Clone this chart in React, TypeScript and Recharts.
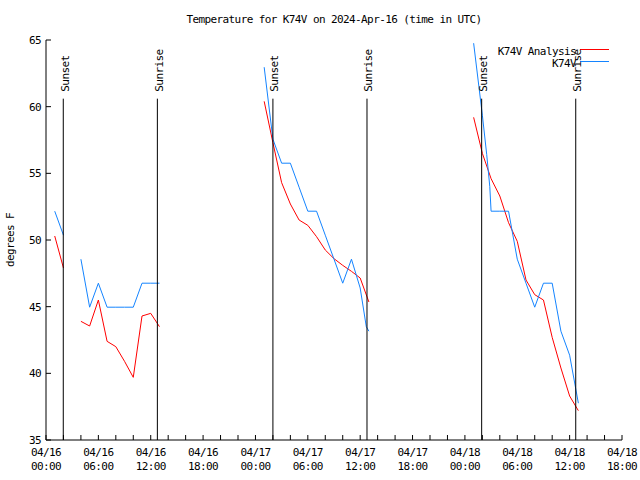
import { LineChart, Line, XAxis, YAxis, ReferenceLine } from "recharts";

const FONT = '"DejaVu Sans Mono", monospace';
const RED = "#ff0000";
const BLUE = "#1484ff";

// hours since 04/16 00:00 UTC, null = gap in the record
const ANALYSIS_HOURS = [
  1, 2, 3, 4, 5, 6, 7, 8, 9, 10, 11, 12, 13, 19,
  25, 26, 27, 28, 29, 30, 31, 32, 33, 34, 35, 36, 37, 43,
  49, 50, 51, 52, 53, 54, 55, 56, 57, 58, 59, 60, 61,
];
const ANALYSIS_TEMPS = [
  50.3, 47.9, null, 43.9, 43.55, 45.5, 42.4, 42.0, 40.9, 39.7, 44.3, 44.5, 43.5, null,
  60.4, 57.3, 54.3, 52.7, 51.5, 51.1, 50.25, 49.25, 48.6, 48.1, 47.65, 47.15, 45.35, null,
  59.2, 56.5, 54.6, 53.3, 51.3, 49.9, 47.0, 45.9, 45.5, 42.7, 40.4, 38.3, 37.2,
];

const OBS_HOURS = [
  1, 2, 3, 4, 5, 6, 7, 8, 9, 10, 11, 12, 13, 19,
  25, 26, 27, 28, 29, 30, 31, 32, 33, 34, 35, 36, 36.7, 37, 43,
  49, 50, 50.5, 50.85, 51, 52, 53, 54, 55, 56, 57, 58, 59, 60, 61,
];
const OBS_TEMPS = [
  52.16, 50.36, null, 48.56, 44.96, 46.76, 44.96, 44.96, 44.96, 44.96, 46.76, 46.76, 46.76, null,
  62.96, 57.56, 55.76, 55.76, 53.96, 52.16, 52.16, 50.36, 48.56, 46.76, 48.56, 46.4, 43.5, 43.16, null,
  64.76, 59.36, 56.4, 54.0, 52.16, 52.16, 52.16, 48.56, 46.76, 44.96, 46.76, 46.76, 43.16, 41.36, 37.76,
];

const SERIES_NAMES = ["K74V Analysis", "K74V"];
const SERIES_COLORS = [RED, BLUE];

const SUNSET_HOURS = [1.98, 26.0, 49.92];
const SUNRISE_HOURS = [12.76, 36.78, 60.7];
const SUN_LINE_TOP = 60.6;

const X_TICK_HOURS = [
  0, 2, 4, 6, 8, 10, 12, 14, 16, 18, 20, 22, 24, 26, 28, 30, 32, 34,
  36, 38, 40, 42, 44, 46, 48, 50, 52, 54, 56, 58, 60, 62, 64, 66,
];
const X_LABEL_HOURS = [0, 6, 12, 18, 24, 30, 36, 42, 48, 54, 60, 66];
const X_LABEL_DATES = [
  "04/16", "04/16", "04/16", "04/16", "04/17", "04/17",
  "04/17", "04/17", "04/18", "04/18", "04/18", "04/18",
];
const X_LABEL_TIMES = [
  "00:00", "06:00", "12:00", "18:00", "00:00", "06:00",
  "12:00", "18:00", "00:00", "06:00", "12:00", "18:00",
];
const Y_TICKS = [35, 40, 45, 50, 55, 60, 65];

const analysisData = ANALYSIS_HOURS.map((t, i) => ({ t, temp: ANALYSIS_TEMPS[i] }));
const obsData = OBS_HOURS.map((t, i) => ({ t, temp: OBS_TEMPS[i] }));

const textStyle = { fontFamily: FONT, fontSize: 11, letterSpacing: -0.6, fill: "#000" };

function TimeTick(props: any) {
  const { x, y, payload } = props;
  const i = X_LABEL_HOURS.indexOf(payload.value);
  if (i < 0) return <g />;
  return (
    <text x={x} y={y} textAnchor="middle" style={textStyle}>
      <tspan x={x} dy={11}>{X_LABEL_DATES[i]}</tspan>
      <tspan x={x} dy={14}>{X_LABEL_TIMES[i]}</tspan>
    </text>
  );
}

const sunShape = (label: string) => (props: any) => {
  const { x1, y1, x2, y2 } = props;
  const top = Math.min(y1, y2);
  return (
    <g>
      <line x1={x1} y1={y1} x2={x2} y2={y2} stroke="#000" strokeWidth={1} />
      <text
        transform={`translate(${x1 + 5.5},${top - 7}) rotate(-90)`}
        textAnchor="start"
        style={textStyle}
      >
        {label}
      </text>
    </g>
  );
};

// key box in the top right corner, drawn inside the chart svg
function KeyBox() {
  return (
    <g>
      {SERIES_NAMES.map((name, i) => (
        <g key={name}>
          <text x={576} y={54.5 + i * 12} textAnchor="end" style={textStyle}>
            {name}
          </text>
          <line
            x1={580}
            x2={609}
            y1={49.5 + i * 12}
            y2={49.5 + i * 12}
            stroke={SERIES_COLORS[i]}
            strokeWidth={1}
          />
        </g>
      ))}
    </g>
  );
}

export default function App() {
  return (
    <div style={{ position: "absolute", left: 0, top: 0, width: 640, height: 480, background: "#fff" }}>
      <LineChart
        width={640}
        height={480}
        margin={{ top: 40, right: 18, bottom: 0, left: 0 }}
        style={{ fontFamily: FONT }}
      >
        <text x={334} y={23} textAnchor="middle" style={textStyle}>
          Temperature for K74V on 2024-Apr-16 (time in UTC)
        </text>
        <text transform="translate(14,240) rotate(-90)" textAnchor="middle" style={textStyle}>
          degrees F
        </text>
        <XAxis
          dataKey="t"
          type="number"
          domain={[0, 66]}
          ticks={X_TICK_HOURS}
          height={40}
          tickSize={-5}
          tickMargin={10}
          tick={<TimeTick />}
          axisLine={{ stroke: "#000" }}
          tickLine={{ stroke: "#000" }}
          interval={0}
        />
        <XAxis
          xAxisId="top"
          orientation="top"
          dataKey="t"
          type="number"
          domain={[0, 66]}
          ticks={X_TICK_HOURS}
          height={0}
          tickSize={-5}
          tick={false}
          axisLine={{ stroke: "#000" }}
          tickLine={{ stroke: "#000" }}
          interval={0}
        />
        <YAxis
          type="number"
          domain={[35, 65]}
          ticks={Y_TICKS}
          width={46}
          tickSize={-5}
          tickMargin={10}
          tick={textStyle}
          axisLine={{ stroke: "#000" }}
          tickLine={{ stroke: "#000" }}
          interval={0}
        />
        <YAxis
          yAxisId="right"
          orientation="right"
          type="number"
          domain={[35, 65]}
          ticks={Y_TICKS}
          width={0}
          tickSize={-5}
          tick={false}
          axisLine={{ stroke: "#000" }}
          tickLine={{ stroke: "#000" }}
          interval={0}
        />
        <Line
          name={SERIES_NAMES[0]}
          data={analysisData}
          dataKey="temp"
          type="linear"
          stroke={RED}
          strokeWidth={1}
          dot={false}
          activeDot={false}
          connectNulls={false}
          isAnimationActive={false}
        />
        <Line
          name={SERIES_NAMES[1]}
          data={obsData}
          dataKey="temp"
          type="linear"
          stroke={BLUE}
          strokeWidth={1}
          dot={false}
          activeDot={false}
          connectNulls={false}
          isAnimationActive={false}
        />
        {SUNSET_HOURS.map((t) => (
          <ReferenceLine
            key={"ss" + t}
            segment={[{ x: t, y: 35 }, { x: t, y: SUN_LINE_TOP }]}
            shape={sunShape("Sunset")}
          />
        ))}
        {SUNRISE_HOURS.map((t) => (
          <ReferenceLine
            key={"sr" + t}
            segment={[{ x: t, y: 35 }, { x: t, y: SUN_LINE_TOP }]}
            shape={sunShape("Sunrise")}
          />
        ))}
        <KeyBox />
      </LineChart>
    </div>
  );
}
